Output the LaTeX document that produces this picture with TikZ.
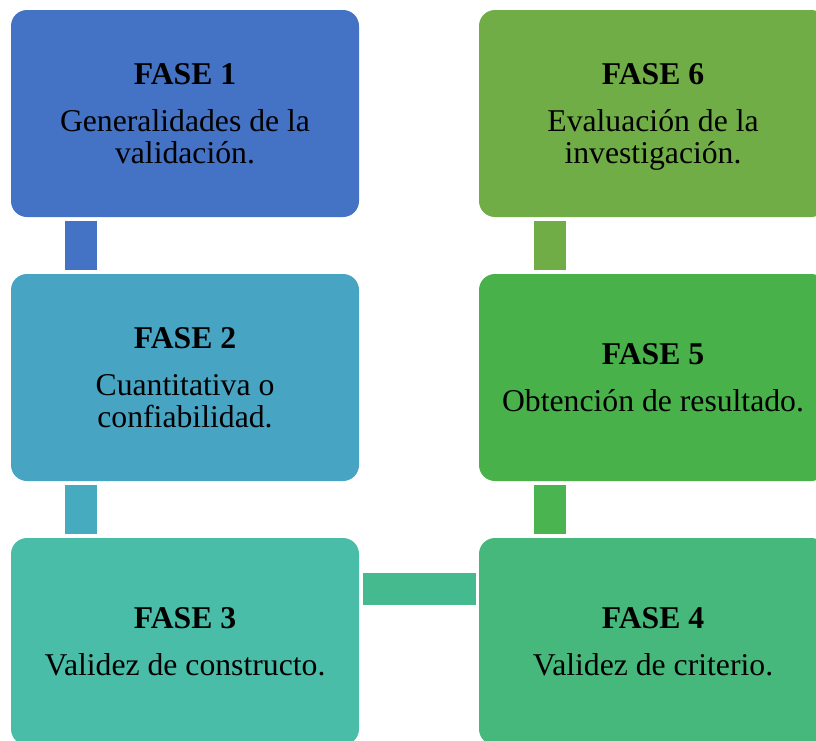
\documentclass[tikz,border=0pt]{standalone}
\usepackage{fontspec}
\setmainfont{Liberation Serif}
\definecolor{cA}{HTML}{4472C4}
\definecolor{cB}{HTML}{47A4C3}
\definecolor{cC}{HTML}{4ABDA9}
\definecolor{cD}{HTML}{46B87B}
\definecolor{cE}{HTML}{49B14A}
\definecolor{cF}{HTML}{70AD47}
\definecolor{cBC}{HTML}{47ABC0}
\definecolor{cCD}{HTML}{45BA8E}
\definecolor{cED}{HTML}{4AB451}
\tikzset{
  fasebox/.style={rectangle, rounded corners=16pt, minimum width=348pt, minimum height=207pt, inner sep=0pt, align=center, font=\fontsize{31.7}{32}\selectfont, text=black},
  bar/.style={line width=32pt, line cap=butt}
}
\begin{document}
\begin{tikzpicture}[x=1pt,y=-1pt]
\useasboundingbox (0,0) rectangle (816,740);
\clip (0,0) rectangle (816,740);
\node[fasebox, fill=cA] (f1) at (185,113.5) {\textbf{FASE 1}\\[15pt]Generalidades de la\\validación.};
\node[fasebox, fill=cB] (f2) at (185,377.5) {\textbf{FASE 2}\\[15pt]Cuantitativa o\\confiabilidad.};
\node[fasebox, fill=cC] (f3) at (185,641.5) {\textbf{FASE 3}\\[15pt]Validez de constructo.};
\node[fasebox, fill=cD] (f4) at (653,641.5) {\textbf{FASE 4}\\[15pt]Validez de criterio.};
\node[fasebox, fill=cE] (f5) at (653,377.5) {\textbf{FASE 5}\\[15pt]Obtención de resultado.};
\node[fasebox, fill=cF] (f6) at (653,113.5) {\textbf{FASE 6}\\[15pt]Evaluación de la\\\smash{investigación.}};
\draw[bar, cA] ([xshift=-104pt, yshift=-4pt]f1.south) -- ([xshift=-104pt, yshift=4pt]f2.north);
\draw[bar, cBC] ([xshift=-104pt, yshift=-4pt]f2.south) -- ([xshift=-104pt, yshift=4pt]f3.north);
\draw[bar, cCD] ([xshift=4pt, yshift=53pt]f3.east) -- ([xshift=-3pt, yshift=53pt]f4.west);
\draw[bar, cED] ([xshift=-103pt, yshift=-4pt]f5.south) -- ([xshift=-103pt, yshift=4pt]f4.north);
\draw[bar, cF] ([xshift=-103pt, yshift=-4pt]f6.south) -- ([xshift=-103pt, yshift=4pt]f5.north);
\end{tikzpicture}
\end{document}
